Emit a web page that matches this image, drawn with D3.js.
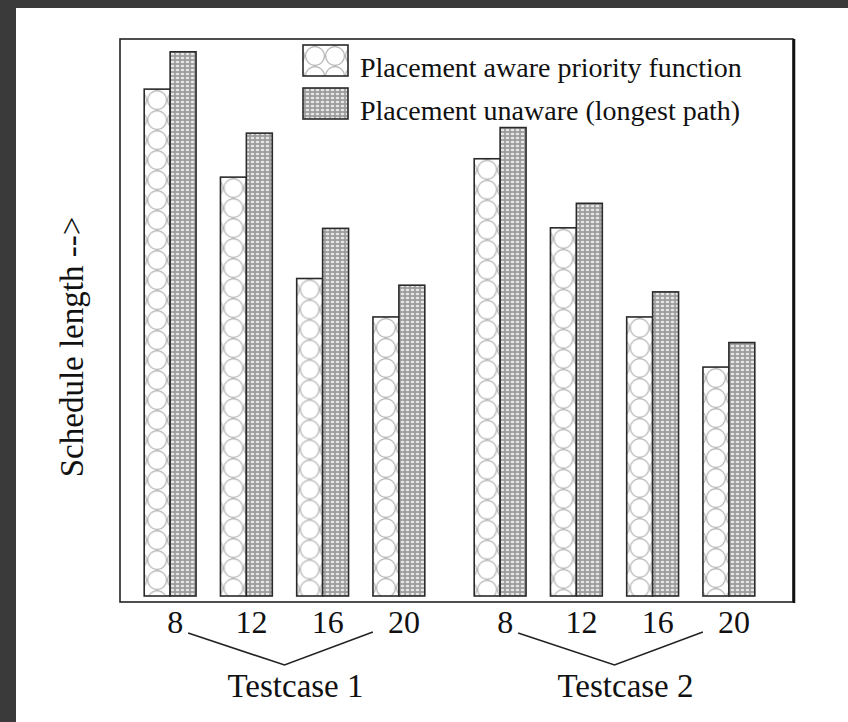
<!DOCTYPE html>
<html>
<head>
<meta charset="utf-8">
<script src="https://cdn.jsdelivr.net/npm/d3@7"></script>
<style>
  html, body { margin: 0; padding: 0; background: #3a3a3a; }
  #chart { position: absolute; left: 16px; top: 8px; }
  text { font-family: "Liberation Serif", "DejaVu Serif", serif; fill: #111; }
</style>
</head>
<body>
<div id="chart"></div>
<script>
// categories
var testcases = ["Testcase 1", "Testcase 2"];
var sizes = ["8", "12", "16", "20"];
var series = ["Placement aware priority function", "Placement unaware (longest path)"];

// schedule length (no scale on the axis, read as % of the frame height)
var awareValues = [
    [91.0, 75.2, 57.0, 50.1],
    [78.5, 66.1, 50.1, 41.1]
];
var unawareValues = [
    [97.7, 83.1, 66.0, 55.8],
    [84.1, 70.5, 54.6, 45.5]
];

var width = 848 - 16,
    height = 722 - 8;
// work in page coordinates
var svg = d3.select("#chart")
    .append("svg")
    .attr("width", width)
    .attr("height", height)
    .style("background", "#fff")
    .append("g")
    .attr("transform", "translate(-16,-8)");

var defs = svg.append("defs");

// circles pattern, one per shape so the column of circles sits in the middle
var nCircles = 0;
function circlePattern(px, py) {
    var id = "circles" + (nCircles++);
    var p = defs.append("pattern")
        .attr("id", id)
        .attr("patternUnits", "userSpaceOnUse")
        .attr("width", 20)
        .attr("height", 20)
        .attr("x", px).attr("y", py);
    p.append("rect").attr("width", 20).attr("height", 20).attr("fill", "#fff");
    p.append("circle")
        .attr("cx", 10).attr("cy", 10).attr("r", 9.4)
        .attr("fill", "none")
        .attr("stroke", "#b8b8b8")
        .attr("stroke-width", 1.3);
    return "url(#" + id + ")";
}

// fine gray texture pattern
var pt = defs.append("pattern")
    .attr("id", "texture")
    .attr("patternUnits", "userSpaceOnUse")
    .attr("width", 5)
    .attr("height", 4);
pt.append("rect").attr("width", 5).attr("height", 4).attr("fill", "#9c9c9c");
pt.append("ellipse")
    .attr("cx", 2.5).attr("cy", 2).attr("rx", 1.9).attr("ry", 1.3)
    .attr("fill", "#e6e6e6");

var plot = { left: 120, top: 39, right: 793, bottom: 602 };

var x0 = d3.scaleBand()
    .domain(testcases)
    .range([132, 767])
    .paddingInner(25 / 330);

var x1 = d3.scaleBand()
    .domain(sizes)
    .range([0, x0.bandwidth()])
    .paddingInner(0.32)
    .paddingOuter(0.16);

var x2 = d3.scaleBand()
    .domain(series)
    .range([0, x1.bandwidth()]);

var y = d3.scaleLinear()
    .domain([0, 100])
    .range([596, plot.top]);

// bars
var rows = [];
testcases.forEach(function (tc, i) {
    sizes.forEach(function (s, j) {
        rows.push({ tc: tc, size: s, key: series[0], value: awareValues[i][j], k: 0 });
        rows.push({ tc: tc, size: s, key: series[1], value: unawareValues[i][j], k: 1 });
    });
});

function barX(d) { return x0(d.tc) + x1(d.size) + x2(d.key); }

svg.selectAll("rect.bar")
    .data(rows)
    .enter().append("rect")
    .attr("class", "bar")
    .attr("x", barX)
    .attr("y", function (d) { return y(d.value); })
    .attr("width", x2.bandwidth())
    .attr("height", function (d) { return y(0) - y(d.value); })
    .attr("fill", function (d) {
        if (d.k == 1) return "url(#texture)";
        return circlePattern(barX(d) + x2.bandwidth() / 2 - 10, y(d.value) + 1);
    })
    .attr("stroke", "#2a2a2a")
    .attr("stroke-width", 1.6);

// frame
svg.append("rect")
    .attr("x", plot.left)
    .attr("y", plot.top)
    .attr("width", plot.right - plot.left)
    .attr("height", plot.bottom - plot.top)
    .attr("fill", "none")
    .attr("stroke", "#222")
    .attr("stroke-width", 1.6);
svg.append("line")
    .attr("x1", plot.right + 1).attr("x2", plot.right + 1)
    .attr("y1", plot.top).attr("y2", plot.bottom + 1)
    .attr("stroke", "#111").attr("stroke-width", 2.5);

// legend
var legend = svg.append("g").attr("class", "legend");
series.forEach(function (s, k) {
    var ly = 45 + k * 43;
    legend.append("rect")
        .attr("x", 303).attr("y", ly)
        .attr("width", 45).attr("height", 31)
        .attr("fill", k == 0 ? circlePattern(305, ly + 1) : "url(#texture)")
        .attr("stroke", "#2a2a2a")
        .attr("stroke-width", 1.6);
    legend.append("text")
        .attr("x", 360).attr("y", ly + 32)
        .style("font-size", "28px")
        .text(s);
});

// tick labels
testcases.forEach(function (tc) {
    sizes.forEach(function (s) {
        svg.append("text")
            .attr("x", x0(tc) + x1(s) + x1.bandwidth() / 2 + 5)
            .attr("y", 633)
            .attr("text-anchor", "middle")
            .style("font-size", "32px")
            .text(s);
    });
    var first = x0(tc) + x1(sizes[0]) + x1.bandwidth() / 2;
    var last = x0(tc) + x1(sizes[sizes.length - 1]) + x1.bandwidth() / 2;
    var mid = x0(tc) + x0.bandwidth() / 2;
    svg.append("path")
        .attr("d", d3.line()([[first + 18, 633], [mid, 665], [last - 26, 632]]))
        .attr("fill", "none")
        .attr("stroke", "#222")
        .attr("stroke-width", 1.6);
    svg.append("text")
        .attr("x", mid + 11)
        .attr("y", 697)
        .attr("text-anchor", "middle")
        .style("font-size", "33px")
        .text(tc);
});

// y label
svg.append("text")
    .attr("transform", "translate(83," + ((212 + 482) / 2) + ") rotate(-90)")
    .attr("text-anchor", "middle")
    .style("font-size", "33px")
    .text("Schedule length -->");
</script>
</body>
</html>
